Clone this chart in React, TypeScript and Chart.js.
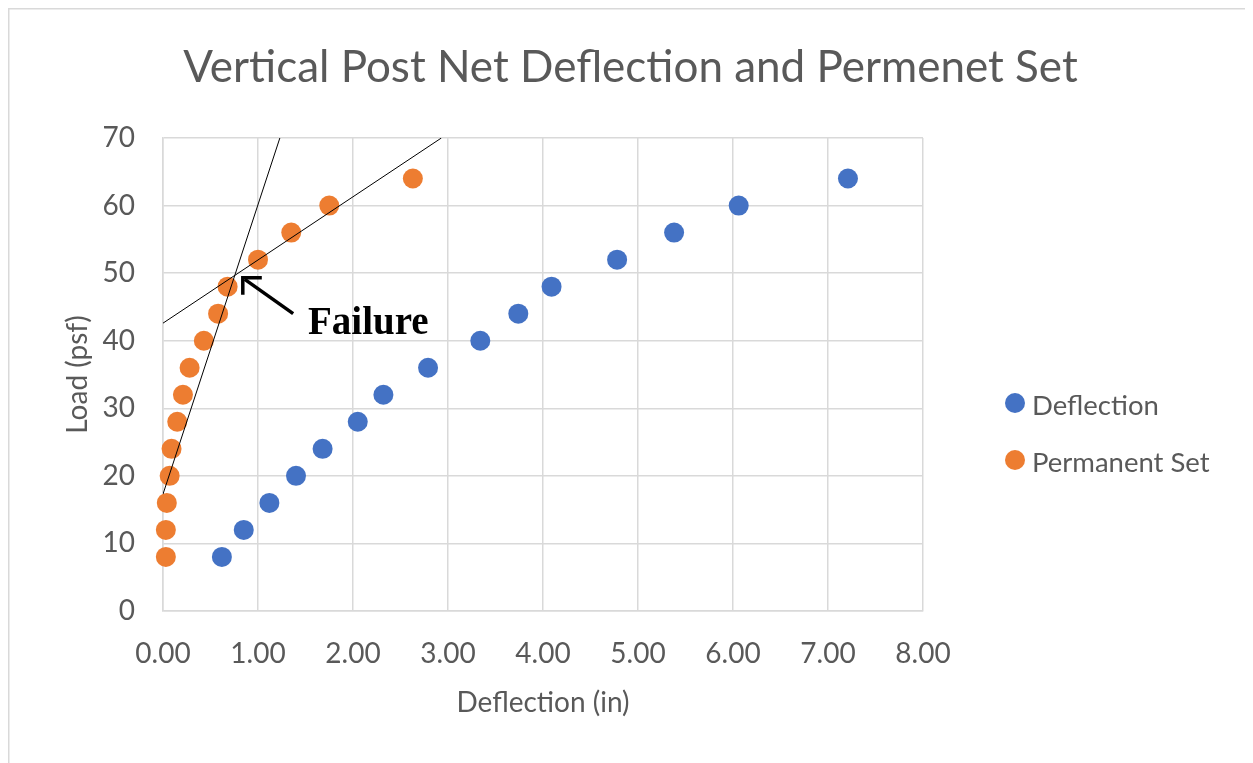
import React, { useEffect, useRef } from "react";
import { Chart, registerables } from "chart.js";

Chart.register(...registerables);

// ---------- data ----------
const chartTitle = "Vertical Post Net Deflection and Permenet Set";
const xAxisTitle = "Deflection (in)";
const yAxisTitle = "Load (psf)";

const loads = [8, 12, 16, 20, 24, 28, 32, 36, 40, 44, 48, 52, 56, 60, 64];
const deflection = [0.62, 0.85, 1.12, 1.4, 1.68, 2.05, 2.32, 2.79, 3.34, 3.74, 4.09, 4.78, 5.38, 6.06, 7.21];
const permanentSet = [0.03, 0.03, 0.04, 0.07, 0.09, 0.15, 0.21, 0.28, 0.43, 0.58, 0.68, 1.0, 1.35, 1.75, 2.63];

// hand-drawn fit lines (data units)
const steepLineX = [0, 1.23];
const steepLineY = [17.3, 70];
const shallowLineX = [0, 2.93];
const shallowLineY = [42.6, 70];

// annotation (data units)
const failureText = "Failure";
const failureTextPos = { x: 1.526, y: 41.0 };
const arrowTip = { x: 0.84, y: 49.3 };
const arrowTail = { x: 1.37, y: 44.0 };

const xMin = 0, xMax = 8, xStep = 1;
const yMin = 0, yMax = 70, yStep = 10;

// ---------- styling ----------
const FONT = "Lato, 'Open Sans', sans-serif";
const TEXT = "#595959";
const GRID = "#d9d9d9";
const BLUE = "#4472C4";
const ORANGE = "#ED7D31";

const toPoints = (xs: number[], ys: number[]) => xs.map((x, i) => ({ x, y: ys[i] }));

const decor = {
  id: "decor",
  afterDatasetsDraw(chart: any) {
    const { ctx, scales } = chart;
    const xs = scales.x, ys = scales.y;
    ctx.save();
    // arrow
    const tx = xs.getPixelForValue(arrowTip.x), ty = ys.getPixelForValue(arrowTip.y);
    const sx = xs.getPixelForValue(arrowTail.x), sy = ys.getPixelForValue(arrowTail.y);
    ctx.strokeStyle = "#000";
    ctx.lineWidth = 3.5;
    ctx.lineCap = "butt";
    ctx.beginPath();
    ctx.moveTo(sx, sy);
    ctx.lineTo(tx + 2, ty + 1.5);
    ctx.stroke();
    ctx.beginPath();
    ctx.moveTo(tx + 19, ty);
    ctx.lineTo(tx, ty);
    ctx.lineTo(tx, ty + 17);
    ctx.stroke();
    // label
    ctx.fillStyle = "#000";
    ctx.font = "bold 39px 'Liberation Serif', 'Times New Roman', serif";
    ctx.textAlign = "left";
    ctx.textBaseline = "alphabetic";
    ctx.fillText(failureText, xs.getPixelForValue(failureTextPos.x), ys.getPixelForValue(failureTextPos.y));
    ctx.restore();
  },
  afterDraw(chart: any) {
    const { ctx, width } = chart;
    ctx.save();
    // legend
    const items = chart.data.datasets.filter((d: any) => d.inLegend);
    const lx = 1007, ly0 = 395, gap = 57;
    items.forEach((d: any, i: number) => {
      const y = ly0 + i * gap;
      ctx.fillStyle = d.backgroundColor;
      ctx.beginPath();
      ctx.arc(lx, y, 10, 0, Math.PI * 2);
      ctx.fill();
      ctx.fillStyle = TEXT;
      ctx.font = `27.5px ${FONT}`;
      ctx.textAlign = "left";
      ctx.textBaseline = "middle";
      ctx.fillText(d.label, lx + 17, y + 3);
    });
    // outer frame
    ctx.strokeStyle = GRID;
    ctx.lineWidth = 1.5;
    ctx.beginPath();
    ctx.moveTo(0.75, chart.height);
    ctx.lineTo(0.75, 0.75);
    ctx.lineTo(width - 1.5, 0.75);
    ctx.lineTo(width - 1.5, chart.height);
    ctx.stroke();
    ctx.restore();
  },
};

export default function App() {
  const ref = useRef<HTMLCanvasElement>(null);
  useEffect(() => {
    const chart = new Chart(ref.current as HTMLCanvasElement, {
      type: "scatter",
      data: {
        datasets: [
          {
            label: "Deflection",
            inLegend: true,
            data: toPoints(deflection, loads),
            backgroundColor: BLUE,
            borderColor: BLUE,
            pointRadius: 10,
            pointBorderWidth: 0,
            order: 1,
            clip: false,
          } as any,
          {
            label: "Permanent Set",
            inLegend: true,
            data: toPoints(permanentSet, loads),
            backgroundColor: ORANGE,
            borderColor: ORANGE,
            pointRadius: 10,
            pointBorderWidth: 0,
            order: 1,
            clip: false,
          } as any,
          {
            label: "fit-a",
            data: toPoints(steepLineX, steepLineY),
            showLine: true,
            borderColor: "#000",
            backgroundColor: "#000",
            borderWidth: 1,
            pointRadius: 0,
            order: 0,
            clip: 0,
          } as any,
          {
            label: "fit-b",
            data: toPoints(shallowLineX, shallowLineY),
            showLine: true,
            borderColor: "#000",
            backgroundColor: "#000",
            borderWidth: 1,
            pointRadius: 0,
            order: 0,
            clip: 0,
          } as any,
        ],
      },
      options: {
        responsive: false,
        animation: false,
        layout: { padding: 0 },
        plugins: {
          legend: { display: false },
          tooltip: { enabled: false },
          title: {
            display: true,
            text: chartTitle,
            color: TEXT,
            font: { family: FONT, size: 44, weight: "normal" },
            padding: { top: 33.6, bottom: 43.6 },
          },
        },
        scales: {
          x: {
            type: "linear",
            min: xMin,
            max: xMax,
            ticks: {
              stepSize: xStep,
              color: TEXT,
              font: { family: FONT, size: 28 },
              padding: 26,
              callback: (v: any) => Number(v).toFixed(2),
            },
            grid: { color: GRID, lineWidth: 1.5, drawTicks: false },
            border: { color: GRID, width: 1.5 },
            title: {
              display: true,
              text: xAxisTitle,
              color: TEXT,
              font: { family: FONT, size: 28 },
              padding: { top: 0, bottom: 43 },
            },
            afterFit: (s: any) => {
              s.height = 152;
            },
          },
          y: {
            type: "linear",
            min: yMin,
            max: yMax,
            ticks: {
              stepSize: yStep,
              color: TEXT,
              font: { family: FONT, size: 28 },
              padding: 28,
            },
            grid: { color: GRID, lineWidth: 1.5, drawTicks: false },
            border: { color: GRID, width: 1.5 },
            title: {
              display: true,
              text: yAxisTitle,
              color: TEXT,
              font: { family: FONT, size: 28 },
              padding: { top: 53, bottom: 0 },
            },
            afterFit: (s: any) => {
              s.width = 155;
            },
          },
          // empty right-hand gutter that holds the legend area
          gutter: {
            type: "linear",
            position: "right",
            display: true,
            min: 0,
            max: 1,
            ticks: { display: false },
            grid: { display: false, drawTicks: false },
            border: { display: false },
            afterFit: (s: any) => {
              s.width = 330;
            },
          },
        },
      } as any,
      plugins: [decor],
    });
    return () => chart.destroy();
  }, []);
  return <canvas ref={ref} width={1245} height={755} style={{ display: "block" }} />;
}
